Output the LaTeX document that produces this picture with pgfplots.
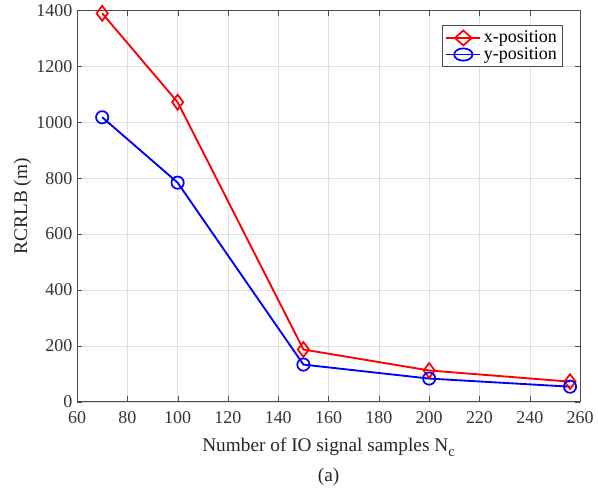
\documentclass[border=0pt]{standalone}
\usepackage{pgfplots}
\pgfplotsset{compat=1.18}
\usepackage{fontspec}
\setmainfont{Liberation Serif}
\begin{document}
\begin{tikzpicture}
\begin{axis}[
  scale only axis,
  width=378pt, height=294pt,
  xmin=60, xmax=260, ymin=0, ymax=1400,
  xtick={60,80,...,260}, ytick={0,200,...,1400},
  tick align=inside, tick pos=both,
  major tick length=4pt,
  grid=major,
  grid style={gray!25, line width=0.4pt},
  axis line style={black!70, line width=0.6pt},
  tick style={black!70},
  /pgf/number format/assume math mode=true,
  /pgf/number format/set thousands separator={},
  tick label style={font=\fontsize{13.5}{15}\selectfont, text=black!80},
  xticklabel style={yshift=-4pt},
  label style={font=\fontsize{14.5}{16}\selectfont, text=black!85},
  xlabel={Number of IO signal samples N\raisebox{-0.55ex}{\fontsize{11}{12}\selectfont c}},
  ylabel={RCRLB (m)},
  xlabel style={yshift=-3.5pt},
  ylabel style={yshift=-3pt},
  legend style={font=\fontsize{13.5}{15}\selectfont, draw=black!70, line width=0.5pt, at={(0.965,0.962)}, anchor=north east, inner sep=2pt, row sep=-2pt},
  legend image post style={xscale=1.5},
  legend cell align=left,
  clip=false,
]
\addplot[red, line width=1.4pt, mark=diamond, mark size=5.6pt, mark options={line width=1.3pt, fill=none}]
  coordinates {(70,1390) (100,1072) (150,187) (200,112) (256,72)};
\addlegendentry{x-position}
\addplot[blue, line width=1.4pt, mark=o, mark size=4.6pt, mark options={line width=1.3pt}]
  coordinates {(70,1018) (100,784) (150,133) (200,83) (256,54)};
\addlegendentry{y-position}
\end{axis}
\node[font=\fontsize{14.5}{16}\selectfont, anchor=north, text=black!85] at (189pt,-46pt) {(a)};
\path ([xshift=-7pt]current bounding box.west);
\end{tikzpicture}
\end{document}
